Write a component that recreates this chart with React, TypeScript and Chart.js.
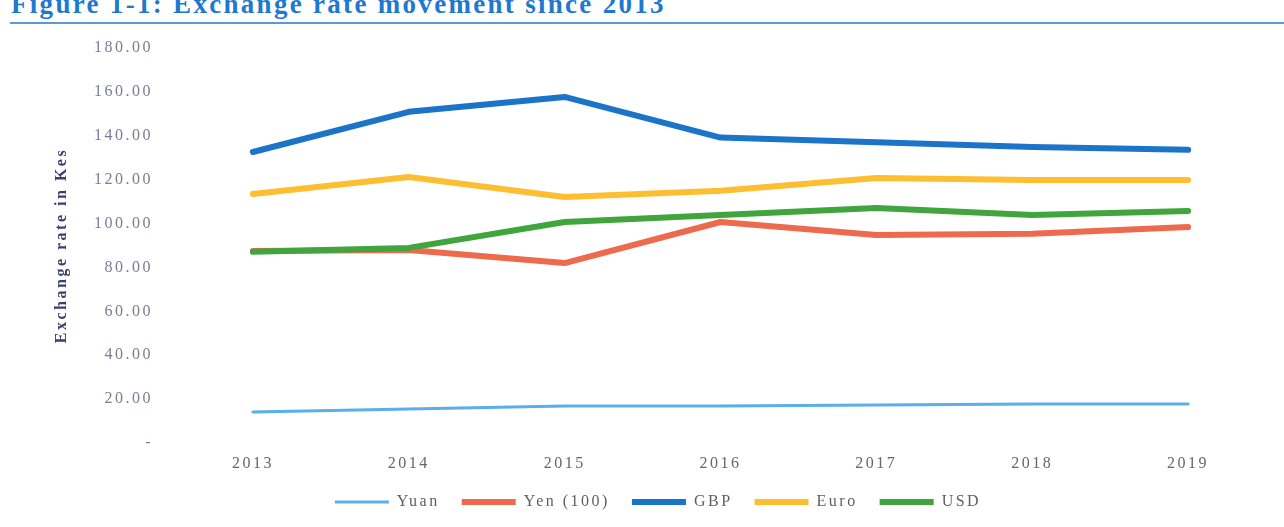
import React, { useEffect, useRef } from "react";
import { Chart, registerables } from "chart.js";

Chart.register(...registerables);

const years = ["2013", "2014", "2015", "2016", "2017", "2018", "2019"];
const yuan = [14.1, 15.5, 16.9, 16.9, 17.3, 17.8, 17.8];
const yen100 = [87.5, 88.0, 82.0, 100.7, 94.8, 95.3, 98.4];
const gbp = [132.6, 150.9, 157.7, 139.2, 137.1, 134.9, 133.6];
const euro = [113.5, 121.2, 112.1, 114.9, 120.8, 119.9, 119.9];
const usd = [87.1, 88.9, 100.7, 103.9, 107.1, 103.9, 105.7];
const yTicks = [0, 20, 40, 60, 80, 100, 120, 140, 160, 180];

const SERIF = '"Liberation Serif", "Times New Roman", serif';

const spacingPlugin = {
  id: "letterSpacing",
  beforeUpdate(chart: any) {
    chart.ctx.letterSpacing = "2.5px";
  },
  beforeDraw(chart: any) {
    chart.ctx.letterSpacing = "2.5px";
  },
};

export default function App() {
  const ref = useRef<HTMLCanvasElement | null>(null);

  useEffect(() => {
    if (!ref.current) return;
    const mk = (label: string, data: number[], color: string, width: number, order: number) => ({
      label,
      data,
      borderColor: color,
      backgroundColor: color,
      borderWidth: width,
      pointRadius: 0,
      pointHoverRadius: 0,
      tension: 0,
      borderCapStyle: "round",
      borderJoinStyle: "round",
      fill: false,
      order,
    });
    const chart = new Chart(ref.current, {
      type: "line",
      data: {
        labels: years,
        datasets: [
          mk("Yuan", yuan, "#5aaeea", 3, 5),
          mk("Yen (100)", yen100, "#ee6a4c", 6, 4),
          mk("GBP", gbp, "#1c74c9", 6, 3),
          mk("Euro", euro, "#fdbe31", 6, 2),
          mk("USD", usd, "#3fa53c", 6, 1),
        ] as any,
      },
      options: {
        responsive: false,
        maintainAspectRatio: false,
        animation: false,
        devicePixelRatio: 1,
        layout: { padding: { top: 18, right: 18, bottom: 7, left: 0 } },
        plugins: {
          title: { display: false },
          tooltip: { enabled: false },
          legend: {
            position: "bottom",
            labels: {
              sort: (a: any, b: any) => a.datasetIndex - b.datasetIndex,
              usePointStyle: true,
              pointStyle: "line",
              pointStyleWidth: 54,
              padding: 22,
              color: "#5f5f5f",
              font: { family: SERIF, size: 16 },
            },
          },
        },
        scales: {
          x: {
            offset: true,
            grid: { display: false, drawTicks: false },
            border: { display: false },
            ticks: {
              color: "#666666",
              font: { family: SERIF, size: 16 },
              padding: 11,
              maxRotation: 0,
            },
            afterFit: (s: any) => {
              s.height = 29;
            },
          },
          y: {
            min: 0,
            max: 180,
            afterBuildTicks: (s: any) => {
              s.ticks = yTicks.map((v) => ({ value: v }));
            },
            grid: { display: false, drawTicks: false },
            border: { display: false },
            ticks: {
              color: "#7b7b96",
              font: { family: SERIF, size: 16 },
              padding: 22,
              callback: (v: any) => (Number(v) === 0 ? "-" : Number(v).toFixed(2)),
            },
            title: {
              display: true,
              text: "Exchange rate in Kes",
              color: "#3b4070",
              font: { family: SERIF, size: 16, weight: "bold" },
              padding: { top: 2, bottom: 0 },
            },
            afterFit: (s: any) => {
              s.width = 125;
              s.paddingTop = 0;
              s.paddingBottom = 0;
            },
          },
        },
      },
      plugins: [spacingPlugin],
    } as any);
    return () => chart.destroy();
  }, []);

  return (
    <div
      style={{
        position: "absolute",
        left: 0,
        top: 0,
        width: 1284,
        height: 527,
        overflow: "hidden",
        background: "#ffffff",
      }}
    >
      <div
        style={{
          position: "absolute",
          left: 11,
          top: -9,
          fontFamily: SERIF,
          fontWeight: "bold",
          fontSize: 27,
          lineHeight: "27px",
          letterSpacing: "2.3px",
          color: "#1f78cf",
          whiteSpace: "nowrap",
        }}
      >
        Figure 1-1: Exchange rate movement since 2013
      </div>
      <div
        style={{
          position: "absolute",
          left: 10,
          right: 0,
          top: 22,
          height: 2,
          background: "#5b9bd5",
        }}
      />
      <div style={{ position: "absolute", left: 50, top: 30, width: 1234, height: 497 }}>
        <canvas ref={ref} width={1234} height={497} style={{ width: 1234, height: 497, display: "block" }} />
      </div>
    </div>
  );
}
